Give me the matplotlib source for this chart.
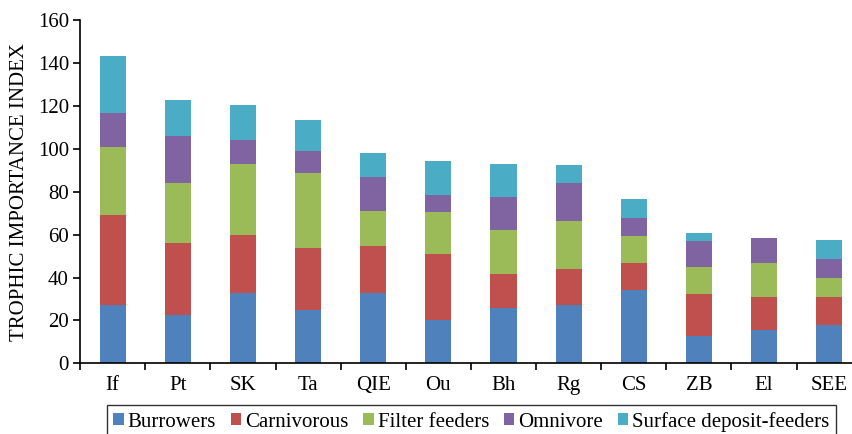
import numpy as np
import matplotlib.pyplot as plt
from matplotlib.ticker import FixedLocator

plt.rcParams['font.family'] = ['Liberation Serif', 'DejaVu Serif']

# sites and feeding-group contributions
sites = ["If", "Pt", "SK", "Ta", "QIE", "Ou", "Bh", "Rg", "CS", "ZB", "El", "SEE"]
burrowers = [27, 22.5, 33, 25, 33, 20, 26, 27, 34, 12.5, 15.5, 18]
carnivorous = [42, 33.5, 27, 29, 21.5, 31, 15.5, 17, 13, 20, 15.5, 13]
filter_feeders = [32, 28, 33, 35, 16.5, 19.5, 20.5, 22.5, 12.5, 12.5, 16, 9]
omnivore = [16, 22, 11, 10, 16, 8, 15.5, 17.5, 8.5, 12, 11.5, 8.5]
surface = [26.5, 17, 16.5, 14.5, 11, 16, 15.5, 8.5, 8.5, 4, 0, 9]

groups = ["Burrowers", "Carnivorous", "Filter feeders", "Omnivore", "Surface deposit-feeders"]
colors = ["#4F81BD", "#C0504D", "#9BBB59", "#8064A2", "#4BACC6"]

fig = plt.figure(figsize=(8.52, 4.34), dpi=100)
ax = fig.add_axes([0.094, 0.163, 0.906, 0.79])

x = np.arange(len(sites))
bottom = np.zeros(len(sites))
for name, vals, c in zip(groups, [burrowers, carnivorous, filter_feeders, omnivore, surface], colors):
    ax.bar(x, vals, 0.4, bottom=bottom, color=c, label=name)
    bottom += np.array(vals)

ax.set_xlim(-0.5, 11.35)
ax.set_ylim(0, 160)
ax.set_yticks(range(0, 161, 20))
ax.set_xticks(x)
ax.set_xticklabels(sites)
ax.xaxis.set_minor_locator(FixedLocator(np.arange(-0.5, 11, 1)))
ax.tick_params(axis='x', which='major', length=0, pad=9, labelsize=15)
ax.tick_params(axis='x', which='minor', length=5, direction='out', width=1.2)
ax.tick_params(axis='y', length=5, direction='out', width=1.2, labelsize=15, pad=3)
ax.spines['top'].set_visible(False)
ax.spines['right'].set_visible(False)
ax.spines['left'].set_linewidth(1.2)
ax.spines['bottom'].set_linewidth(1.2)
ax.set_ylabel("TROPHIC IMPORTANCE INDEX", fontsize=15, labelpad=6)

leg = fig.legend(loc='upper left', bbox_to_anchor=(0.1256, 0.066), ncol=5, frameon=True,
                 fancybox=False, edgecolor='black', fontsize=15, handlelength=0.5,
                 handleheight=0.5, handletextpad=0.2, columnspacing=0.7, borderpad=0.3,
                 borderaxespad=0)
leg.get_frame().set_linewidth(1.0)

fig.savefig("out.png", dpi=100)
